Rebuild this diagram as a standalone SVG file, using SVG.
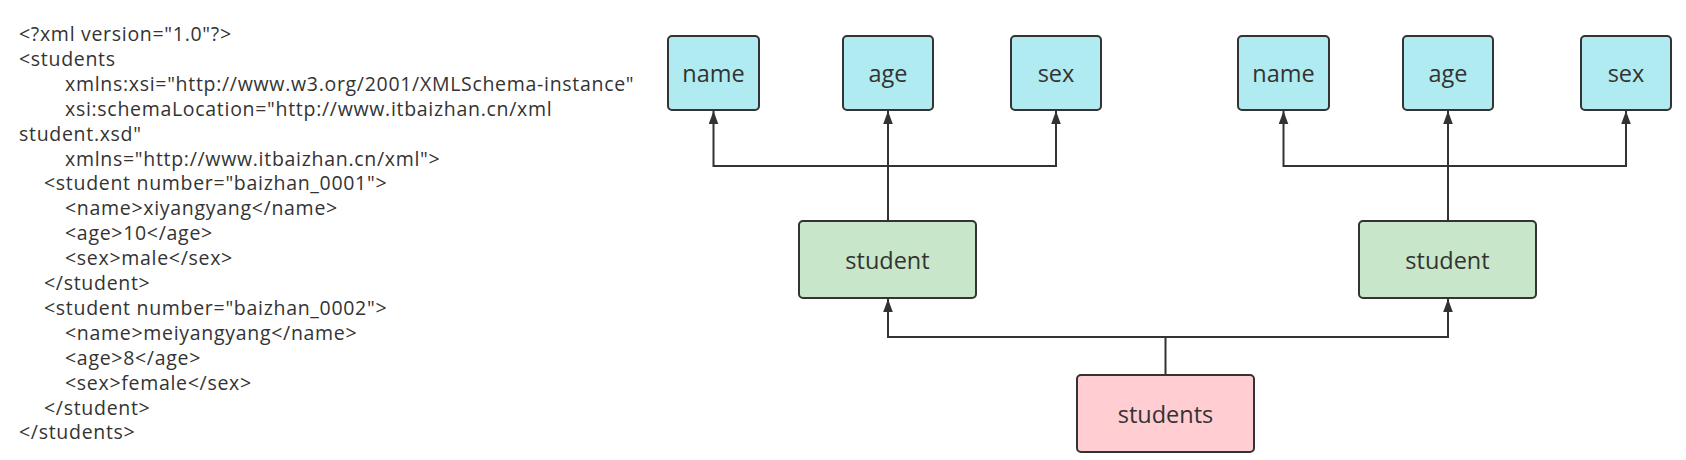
<svg xmlns="http://www.w3.org/2000/svg" width="1686" height="460" viewBox="0 0 1686 460">
<defs>
<marker id="arr" markerUnits="userSpaceOnUse" markerWidth="14" markerHeight="10" viewBox="0 0 14 10" refX="13" refY="5" orient="auto">
<path d="M13 5 L0 0.2 L0 9.8 Z" fill="#333333"/>
</marker>
</defs>
<style>
.code{font-family:"Open Sans","Noto Sans","Liberation Sans",sans-serif;font-size:19.5px;letter-spacing:0.7px;fill:#333333}
.lbl{font-family:"Open Sans","Noto Sans","Liberation Sans",sans-serif;font-size:23.5px;fill:#333333;text-anchor:middle}
.box{stroke:#333333;stroke-width:2}
.leaf{fill:#b0ebf2}
.mid{fill:#c8e6c9}
.root{fill:#ffcdd2}
.conn{fill:none;stroke:#333333;stroke-width:2;marker-end:url(#arr)}
</style>
<rect width="1686" height="460" fill="#ffffff"/>
<g id="code">
<text class="code" x="19" y="41">&lt;?xml version="1.0"?&gt;</text>
<text class="code" x="19" y="65.9">&lt;students</text>
<text class="code" x="65" y="90.8">xmlns:xsi="http://www.w3.org/2001/XMLSchema-instance"</text>
<text class="code" x="65" y="115.7">xsi:schemaLocation="http://www.itbaizhan.cn/xml</text>
<text class="code" x="19" y="140.6">student.xsd"</text>
<text class="code" x="65" y="165.5">xmlns="http://www.itbaizhan.cn/xml"&gt;</text>
<text class="code" x="44" y="190.4">&lt;student number="baizhan_0001"&gt;</text>
<text class="code" x="65" y="215.3">&lt;name&gt;xiyangyang&lt;/name&gt;</text>
<text class="code" x="65" y="240.2">&lt;age&gt;10&lt;/age&gt;</text>
<text class="code" x="65" y="265.1">&lt;sex&gt;male&lt;/sex&gt;</text>
<text class="code" x="44" y="290">&lt;/student&gt;</text>
<text class="code" x="44" y="314.9">&lt;student number="baizhan_0002"&gt;</text>
<text class="code" x="65" y="339.8">&lt;name&gt;meiyangyang&lt;/name&gt;</text>
<text class="code" x="65" y="364.7">&lt;age&gt;8&lt;/age&gt;</text>
<text class="code" x="65" y="389.6">&lt;sex&gt;female&lt;/sex&gt;</text>
<text class="code" x="44" y="414.5">&lt;/student&gt;</text>
<text class="code" x="19" y="439.4">&lt;/students&gt;</text>
</g>
<g id="connectors">
<path class="conn" d="M888 221 L888 111"/>
<path class="conn" d="M888 166 L713.5 166 L713.5 111"/>
<path class="conn" d="M888 166 L1056 166 L1056 111"/>
<path class="conn" d="M1448 221 L1448 111"/>
<path class="conn" d="M1448 166 L1283.5 166 L1283.5 111"/>
<path class="conn" d="M1448 166 L1626 166 L1626 111"/>
<path class="conn" d="M1165.5 375 L1165.5 337 L888 337 L888 299"/>
<path class="conn" d="M1165.5 337 L1448 337 L1448 299"/>
</g>
<g id="name1"><rect class="box leaf" x="668" y="36" width="91" height="74" rx="4"/><text class="lbl" x="713.5" y="82">name</text></g>
<g id="age1"><rect class="box leaf" x="843" y="36" width="90" height="74" rx="4"/><text class="lbl" x="888" y="82">age</text></g>
<g id="sex1"><rect class="box leaf" x="1011" y="36" width="90" height="74" rx="4"/><text class="lbl" x="1056" y="82">sex</text></g>
<g id="name2"><rect class="box leaf" x="1238" y="36" width="91" height="74" rx="4"/><text class="lbl" x="1283.5" y="82">name</text></g>
<g id="age2"><rect class="box leaf" x="1403" y="36" width="90" height="74" rx="4"/><text class="lbl" x="1448" y="82">age</text></g>
<g id="sex2"><rect class="box leaf" x="1581" y="36" width="90" height="74" rx="4"/><text class="lbl" x="1626" y="82">sex</text></g>
<g id="student1"><rect class="box mid" x="799" y="221" width="177" height="77" rx="4"/><text class="lbl" x="887.5" y="268.5">student</text></g>
<g id="student2"><rect class="box mid" x="1359" y="221" width="177" height="77" rx="4"/><text class="lbl" x="1447.5" y="268.5">student</text></g>
<g id="students"><rect class="box root" x="1077" y="375" width="177" height="77" rx="4"/><text class="lbl" x="1165.5" y="422.5">students</text></g>
</svg>
